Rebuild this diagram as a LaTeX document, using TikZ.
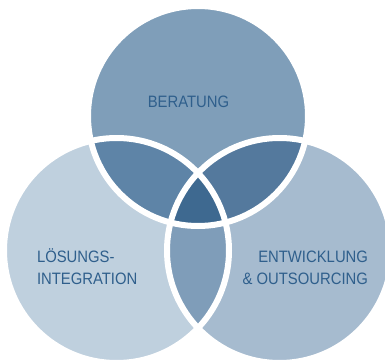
\documentclass[tikz,border=0pt]{standalone}
\usepackage{fontspec}
\newfontfamily\dinfont[FakeStretch=0.9]{Liberation Sans}
\usetikzlibrary{positioning}
\usepackage{xcolor}
\definecolor{berC}{HTML}{7F9EB9}
\definecolor{loeC}{HTML}{BFD0DE}
\definecolor{entC}{HTML}{A6BBCF}
\definecolor{blC}{HTML}{5E84A7}
\definecolor{brC}{HTML}{54799D}
\definecolor{leC}{HTML}{7F9DB9}
\definecolor{midC}{HTML}{3E6990}
\definecolor{txtC}{HTML}{2F5F8C}
\tikzset{
	x=1pt, y=-1pt,
	every node/.style={inner sep=0pt, outer sep=0pt},
	label/.style={text=txtC, font=\dinfont\fontsize{16.5}{22}\selectfont},
	sep/.style={draw=white, line width=6pt}
}

\begin{document}
\begin{tikzpicture}
			\useasboundingbox (0,0) rectangle (385,361);
			% centres
			\coordinate (ber) at (198,116);
			\coordinate (loe) at (116.5,250.5);
			\coordinate (ent) at (279.5,250.5);
			\def\rB{110}
			\def\rL{112.5}

			% circles
			\fill[loeC] (loe) circle (\rL);
			\fill[entC] (ent) circle (\rL);
			\fill[berC] (ber) circle (\rB);
			% overlaps
			\begin{scope}
				\clip (ber) circle (\rB);
				\fill[blC] (loe) circle (\rL);
				\fill[brC] (ent) circle (\rL);
			\end{scope}
			\begin{scope}
				\clip (loe) circle (\rL);
				\fill[leC] (ent) circle (\rL);
				\clip (ent) circle (\rL);
				\fill[midC] (ber) circle (\rB);
			\end{scope}
			\draw[sep] (ber) circle (\rB);
			\draw[sep] (loe) circle (\rL);
			\draw[sep] (ent) circle (\rL);

			% labels
			\node (beratung) [label, anchor=base] at (188.5,107) {BERATUNG};
			\node (loesung) [label, anchor=base west, align=left] at (37,284) {LÖSUNGS-\\INTEGRATION};
			\node (entwicklung) [label, anchor=base east, align=right] at (368,284) {ENTWICKLUNG\\\& OUTSOURCING};
\end{tikzpicture}
\end{document}
